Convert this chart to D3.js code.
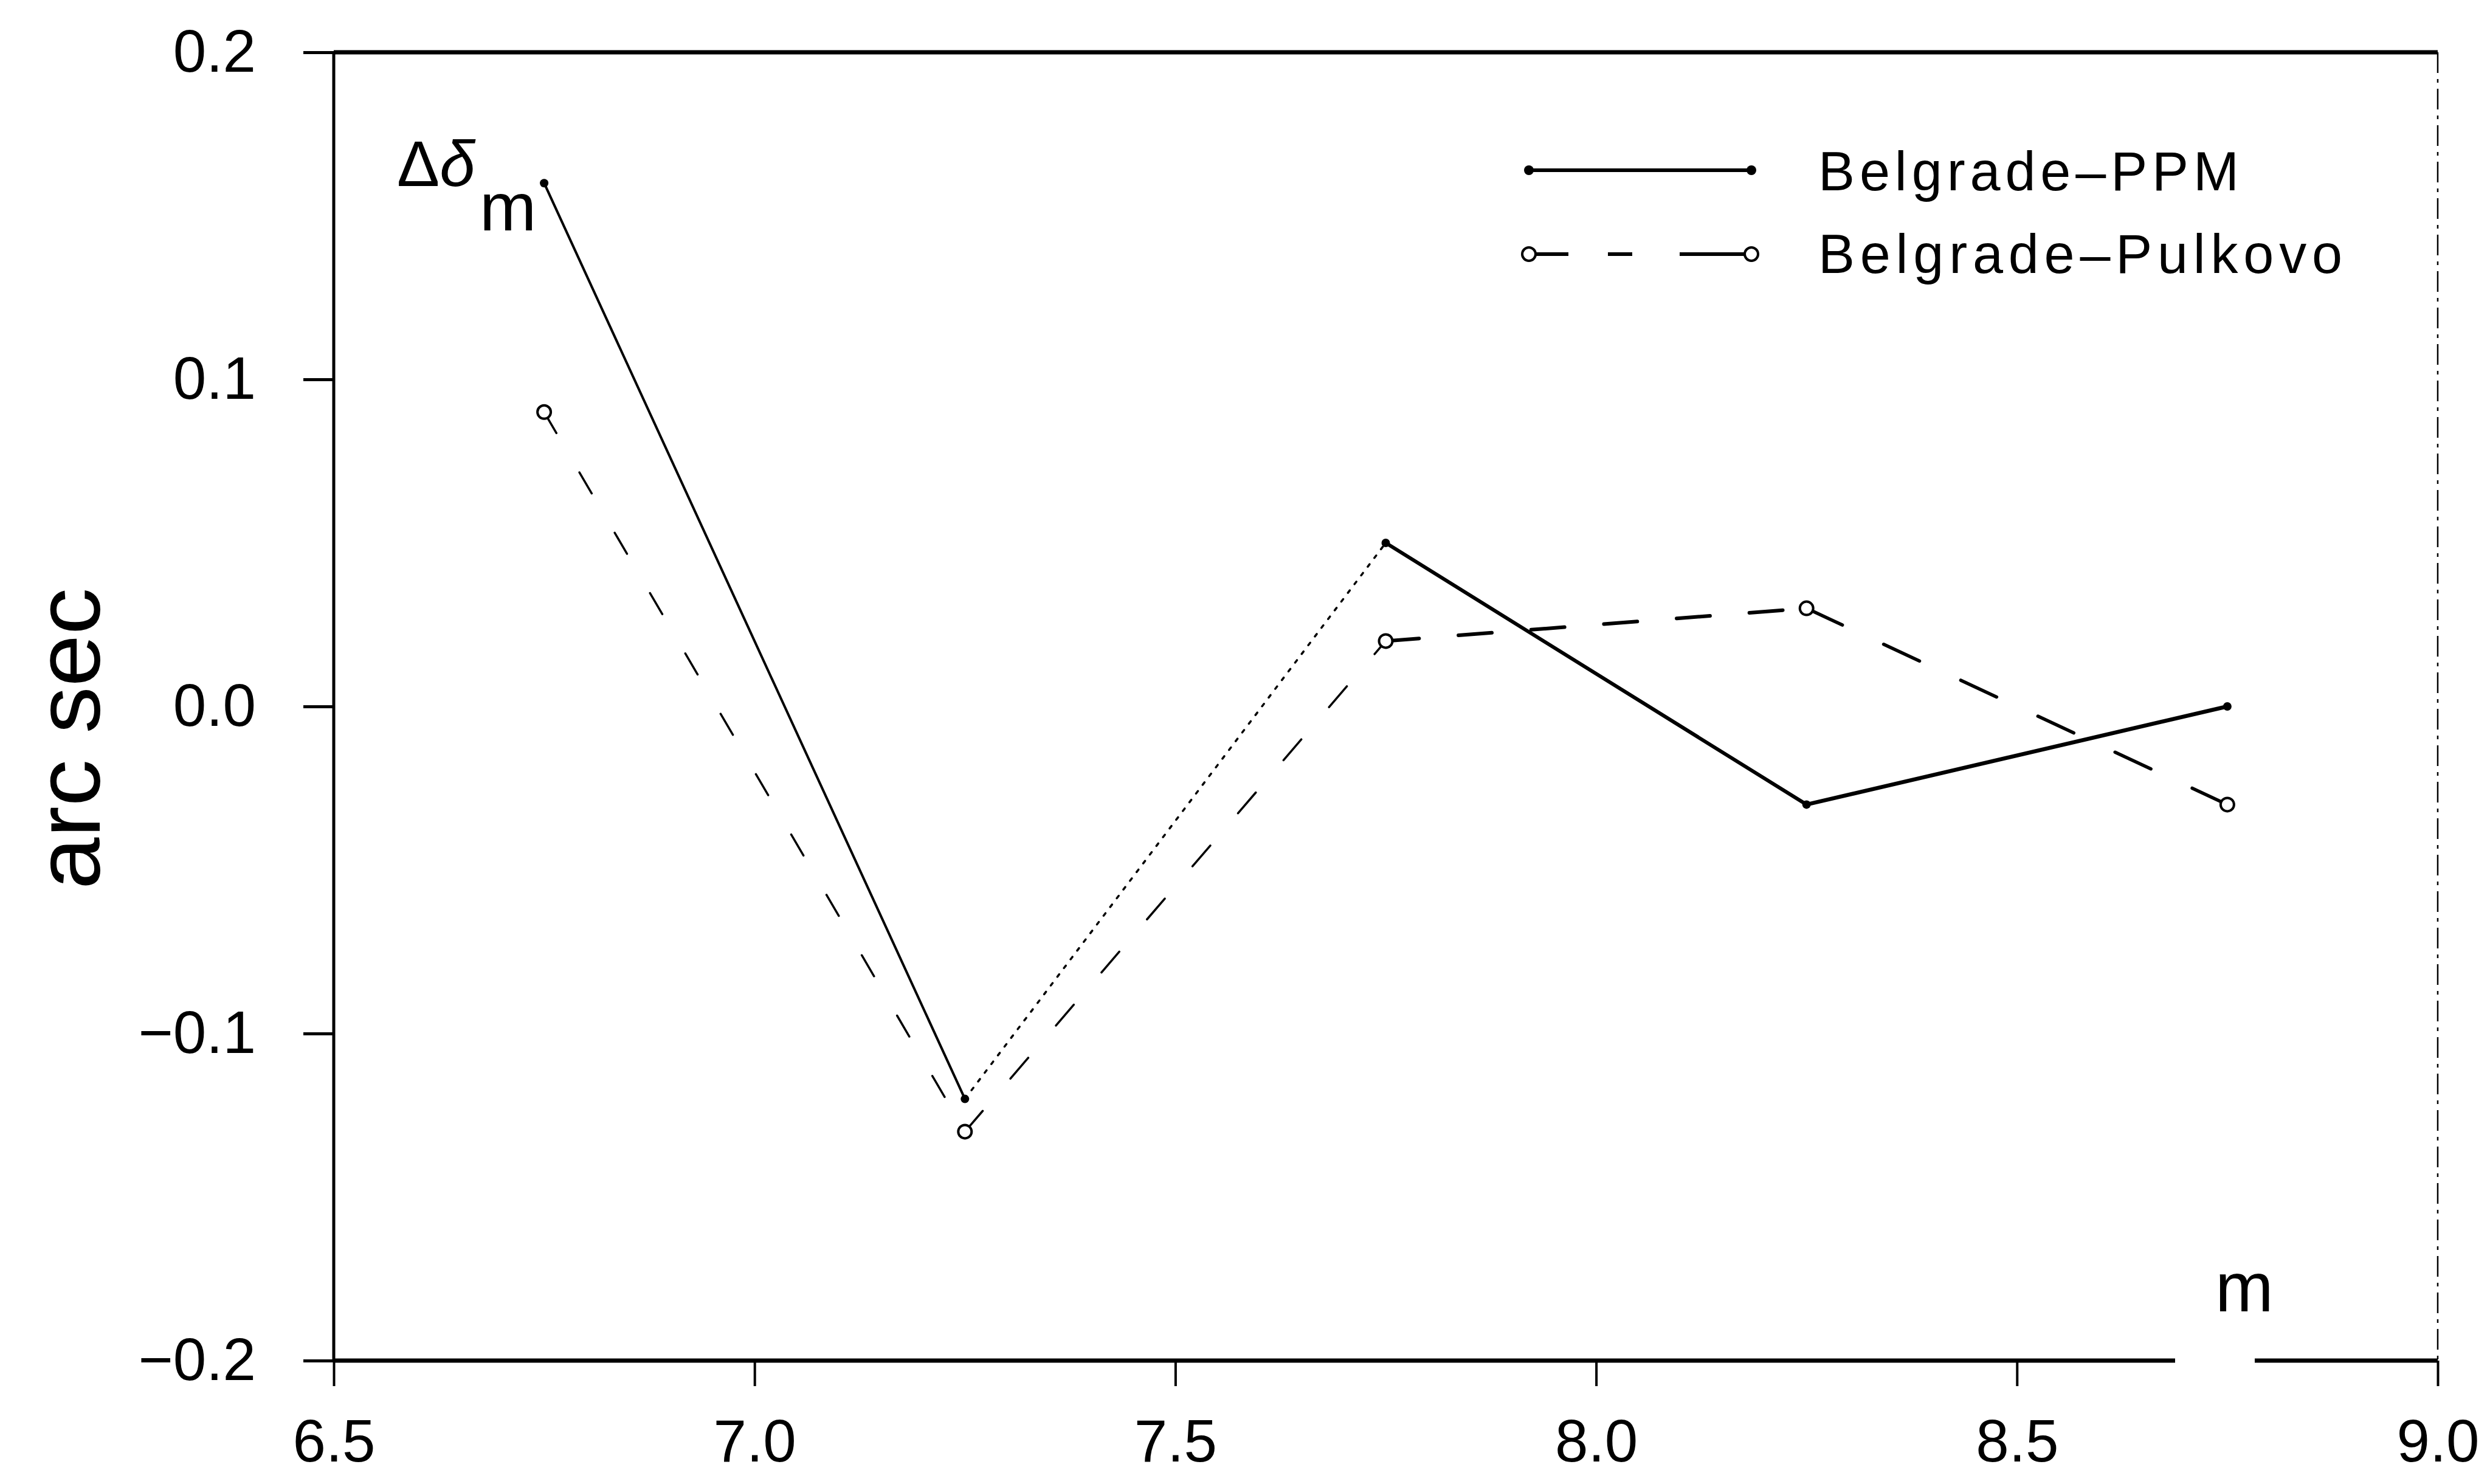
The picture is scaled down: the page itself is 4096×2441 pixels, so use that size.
<!DOCTYPE html>
<html>
<head>
<meta charset="utf-8">
<script src="https://cdn.jsdelivr.net/npm/d3@7"></script>
<style>
  body { margin: 0; background: #fff; }
  svg { display: block; }
</style>
</head>
<body>
<svg id="chart"></svg>
<script>
// values
const magnitudes = [6.75, 7.25, 7.75, 8.25, 8.75];
const ppmValues = [0.16, -0.12, 0.05, -0.03, 0.0];
const pulkovoValues = [0.09, -0.13, 0.02, 0.03, -0.03];
const xTicks = [6.5, 7.0, 7.5, 8.0, 8.5, 9.0];
const yTicks = [-0.2, -0.1, 0.0, 0.1, 0.2];
const seriesNames = ["Belgrade\u2013PPM", "Belgrade\u2013Pulkovo"];

const width = 4096, height = 2441;
const margin = { top: 86, right: 86, bottom: 203, left: 549 };
const w = width - margin.left - margin.right;
const h = height - margin.top - margin.bottom;
const font = "'Liberation Sans', Arial, sans-serif";

// segment styles (scanned plot changes pen between segments)
const ppmStyle = [{ w: 4, dash: null }, { w: 3.5, dash: "5 13" }, { w: 6, dash: null }, { w: 6.5, dash: null }];
const pulkStyle = [{ w: 3.5, dash: "40 75" }, { w: 3.5, dash: "45 70" }, { w: 6, dash: "55 65" }, { w: 5.5, dash: "65 75" }];

const svg = d3.select("#chart")
    .attr("width", width)
    .attr("height", height)
    .style("background", "#fff");

const chart = svg.append("g")
    .attr("transform", `translate(${margin.left},${margin.top})`);

const x = d3.scaleLinear().domain([6.5, 9.0]).range([0, w]);
const y = d3.scaleLinear().domain([-0.2, 0.2]).range([h, 0]);

// axes
const yAxis = d3.axisLeft(y)
    .tickValues(yTicks)
    .tickSize(50)
    .tickPadding(78)
    .tickFormat(d3.format(".1f"));

const xAxis = d3.axisBottom(x)
    .tickValues(xTicks)
    .tickSize(42)
    .tickPadding(54)
    .tickFormat(d3.format(".1f"));

chart.append("g")
    .attr("class", "axis y-axis")
    .call(yAxis)
    .call(g => g.select(".domain").remove())
    .attr("font-size", 98)
    .attr("font-family", font)
    .call(g => g.selectAll(".tick line").attr("stroke-width", 5));

chart.append("g")
    .attr("class", "axis x-axis")
    .attr("transform", `translate(0,${h})`)
    .call(xAxis)
    .call(g => g.select(".domain").remove())
    .attr("font-size", 98)
    .attr("font-family", font)
    .call(g => g.selectAll(".tick line").attr("stroke-width", 4));

// frame
const frame = chart.append("g").attr("stroke", "#000").attr("fill", "none");
frame.append("line")
    .attr("x1", x(6.5)).attr("x2", x(6.5))
    .attr("y1", y(0.2)).attr("y2", y(-0.2))
    .attr("stroke-width", 5);
frame.append("line")
    .attr("x1", x(6.5)).attr("x2", x(9.0))
    .attr("y1", y(0.2)).attr("y2", y(0.2))
    .attr("stroke-width", 7);
frame.append("line")
    .attr("x1", x(9.0)).attr("x2", x(9.0))
    .attr("y1", y(0.2)).attr("y2", y(-0.2))
    .attr("stroke-width", 2.5)
    .attr("stroke-dasharray", "34 10 6 10");
// bottom line is broken where the "m" label sits
const gapStart = 3578 - margin.left, gapEnd = 3709 - margin.left;
frame.append("line")
    .attr("x1", x(6.5)).attr("x2", gapStart)
    .attr("y1", y(-0.2)).attr("y2", y(-0.2))
    .attr("stroke-width", 7);
frame.append("line")
    .attr("x1", gapEnd).attr("x2", x(9.0))
    .attr("y1", y(-0.2)).attr("y2", y(-0.2))
    .attr("stroke-width", 7);

// series
const ppm = magnitudes.map((m, i) => ({ m: m, v: ppmValues[i] }));
const pulkovo = magnitudes.map((m, i) => ({ m: m, v: pulkovoValues[i] }));

const line = d3.line().x(d => x(d.m)).y(d => y(d.v));

function drawSeries(data, styles, cls) {
    const g = chart.append("g").attr("class", cls);
    g.selectAll("path")
        .data(d3.pairs(data))
        .join("path")
        .attr("d", d => line(d))
        .attr("fill", "none")
        .attr("stroke", "#000")
        .attr("stroke-linecap", "round")
        .attr("stroke-width", (d, i) => styles[i].w)
        .attr("stroke-dasharray", (d, i) => styles[i].dash);
    return g;
}

drawSeries(ppm, ppmStyle, "ppm")
    .selectAll("circle")
    .data(ppm)
    .join("circle")
    .attr("cx", d => x(d.m))
    .attr("cy", d => y(d.v))
    .attr("r", 7)
    .attr("fill", "#000");

drawSeries(pulkovo, pulkStyle, "pulkovo")
    .selectAll("circle")
    .data(pulkovo)
    .join("circle")
    .attr("cx", d => x(d.m))
    .attr("cy", d => y(d.v))
    .attr("r", 11)
    .attr("fill", "#fff")
    .attr("stroke", "#000")
    .attr("stroke-width", 4);

// legend
const legend = svg.append("g").attr("font-family", font).attr("font-size", 90);
const lx1 = 2515, lx2 = 2881, ly = [280, 418];

legend.append("line")
    .attr("x1", lx1).attr("x2", lx2).attr("y1", ly[0]).attr("y2", ly[0])
    .attr("stroke", "#000").attr("stroke-width", 6);
legend.selectAll("circle.ppm")
    .data([lx1, lx2])
    .join("circle")
    .attr("class", "ppm")
    .attr("cx", d => d).attr("cy", ly[0]).attr("r", 8).attr("fill", "#000");

legend.append("line")
    .attr("x1", lx1).attr("x2", lx2).attr("y1", ly[1]).attr("y2", ly[1])
    .attr("stroke", "#000").attr("stroke-width", 6)
    .attr("stroke-dasharray", "65 65 40 78 130");
legend.selectAll("circle.pul")
    .data([lx1, lx2])
    .join("circle")
    .attr("class", "pul")
    .attr("cx", d => d).attr("cy", ly[1]).attr("r", 11)
    .attr("fill", "#fff").attr("stroke", "#000").attr("stroke-width", 4);

legend.selectAll("text")
    .data(seriesNames)
    .join("text")
    .attr("x", 2991)
    .attr("y", (d, i) => [313, 449][i])
    .attr("textLength", (d, i) => [692, 862][i])
    .attr("lengthAdjust", "spacing")
    .text(d => d);

// labels
svg.append("text")
    .attr("font-family", font)
    .attr("font-size", 150)
    .attr("text-anchor", "middle")
    .attr("transform", "translate(164,1215) rotate(-90)")
    .attr("textLength", 496)
    .attr("lengthAdjust", "spacingAndGlyphs")
    .text("arc sec");

const dl = svg.append("text")
    .attr("font-family", font)
    .attr("x", 653)
    .attr("y", 306);
dl.append("tspan").attr("font-size", 105).text("\u0394");
dl.append("tspan").attr("font-size", 105).attr("font-style", "italic").text("\u03b4");
dl.append("tspan").attr("font-size", 112).attr("x", 789).attr("y", 379).text("m");

svg.append("text")
    .attr("font-family", font)
    .attr("font-size", 115)
    .attr("x", 3644)
    .attr("y", 2157)
    .text("m");
</script>
</body>
</html>
